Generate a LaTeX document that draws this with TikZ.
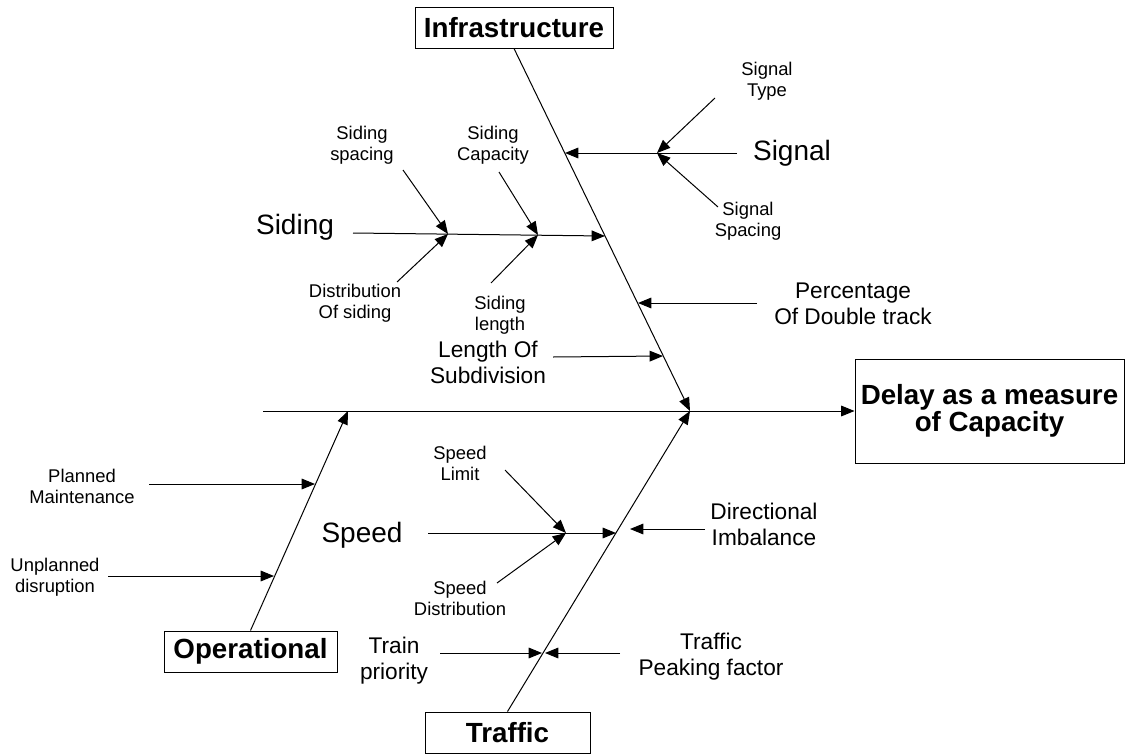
\documentclass[tikz,border=0pt]{standalone}
\usepackage{fontspec}
\setmainfont{Liberation Sans}
\usepackage{tikz}
\usetikzlibrary{arrows.meta}

\begin{document}
\begin{tikzpicture}[x=0.75pt,y=0.75pt,yscale=-1,
  small/.style={inner sep=0pt,align=center,font=\fontsize{13.8}{15.8}\selectfont},
  medium/.style={inner sep=0pt,align=center,font=\fontsize{17}{19.5}\selectfont},
  large/.style={inner sep=0pt,align=center,font=\fontsize{21}{24}\selectfont},
  catbox/.style={draw,line width=0.75pt,inner sep=0pt,align=center,minimum height=30.75pt,font=\bfseries\fontsize{20.8}{18}\selectfont},
  bone/.style={line width=0.75pt},
  arr/.style={line width=0.75pt,-{Triangle[length=10pt,width=8pt]}}]
\useasboundingbox (0,0) rectangle (1127,753);

% Text Node
\node [catbox,minimum width=148.5pt] (infra) at (514,27.5) {Infrastructure};
% Text Node
\node [catbox,minimum width=129.75pt] (oper) at (250.5,651.5) {Operational};
% Text Node
\node [catbox,minimum width=123.75pt] (traffic) at (507.5,732.5) {Traffic};
% Text Node
\node [catbox,minimum width=201.75pt,minimum height=78pt] (delay) at (989.5,411) {Delay as a measure\\of Capacity};

% Text Node
\node [large] (signal) at (792,153) {Signal};
% Text Node
\node [small] (sigtype) at (767,81) {Signal\\Type};
% Text Node
\node [small] (sigspace) at (748,221) {Signal\\Spacing};
% Text Node
\node [large] (siding) at (295,227) {Siding};
% Text Node
\node [small] (sidspace) at (362,145) {Siding\\spacing};
% Text Node
\node [small] (sidcap) at (493,145) {Siding\\Capacity};
% Text Node
\node [small] (siddist) at (355,303) {Distribution\\Of siding};
% Text Node
\node [small] (sidlen) at (500,315) {Siding\\length};
% Text Node
\node [medium] (lensub) at (488,362) {Length Of\\Subdivision};
% Text Node
\node [medium] (pctdbl) at (853,304) {Percentage\\Of Double track};
% Text Node
\node [small] (planned) at (82,486) {Planned\\Maintenance};
% Text Node
\node [small] (unplanned) at (55,577) {Unplanned\\disruption};
% Text Node
\node [large] (speed) at (362,535) {Speed};
% Text Node
\node [small] (spdlim) at (460,463) {Speed\\Limit};
% Text Node
\node [small] (spddist) at (460,598) {Speed\\Distribution};
% Text Node
\node [medium] (dirimb) at (764,524) {Directional\\Imbalance};
% Text Node
\node [medium] (trainpri) at (394,661) {Train\\priority};
% Text Node
\node [medium] (peak) at (711,657) {Traffic\\Peaking factor};

% Points on the bones
\coordinate (head) at (690,411);
\coordinate (tail) at (263,411);
\coordinate (opHead) at (348,411);
\coordinate (jSig) at (565,153);
\coordinate (jSigIn) at (657,153);
\coordinate (jSid) at (605,236);
\coordinate (jSidA) at (448,234);
\coordinate (jSidB) at (538,235);
\coordinate (jPct) at (638,303);
\coordinate (jLen) at (663,356);
\coordinate (jPlan) at (315,484);
\coordinate (jUnpl) at (274,576);
\coordinate (jSpd) at (616,533);
\coordinate (jSpdIn) at (566,533);
\coordinate (jDir) at (630,529);
\coordinate (jTrainL) at (542,653);
\coordinate (jTrainR) at (545,653);
% Free ends
\coordinate (sigFrom) at (737,153);
\coordinate (sigtypeFrom) at (715,98);
\coordinate (sigspaceFrom) at (718,207);
\coordinate (sidFrom) at (353,233);
\coordinate (sidspaceFrom) at (403,170);
\coordinate (siddistFrom) at (397,282);
\coordinate (sidcapFrom) at (499,172);
\coordinate (sidlenFrom) at (491,283);
\coordinate (lenFrom) at (553,357);
\coordinate (pctFrom) at (757,303);
\coordinate (planFrom) at (149,484);
\coordinate (unplFrom) at (108,576);
\coordinate (spdFrom) at (428,533);
\coordinate (spdlimFrom) at (505,470);
\coordinate (spddistFrom) at (497,583);
\coordinate (dirFrom) at (705,529);
\coordinate (trainFrom) at (440,653);
\coordinate (peakFrom) at (620,653);

% Connection
\draw [arr] (tail) -- (delay.west);
% Connection
\draw [arr] (infra.south) -- (head);
% Connection
\draw [arr] (traffic.north) -- (head);
% Connection
\draw [arr] (oper.north) -- (opHead);

% Connection
\draw [arr] (sigFrom) -- (jSig);
% Connection
\draw [arr] (sigtypeFrom) -- (jSigIn);
% Connection
\draw [arr] (sigspaceFrom) -- (jSigIn);
% Connection
\draw [arr] (sidFrom) -- (jSid);
% Connection
\draw [arr] (sidspaceFrom) -- (jSidA);
% Connection
\draw [arr] (siddistFrom) -- (jSidA);
% Connection
\draw [arr] (sidcapFrom) -- (jSidB);
% Connection
\draw [arr] (sidlenFrom) -- (jSidB);
% Connection
\draw [arr] (pctFrom) -- (jPct);
% Connection
\draw [arr] (lenFrom) -- (jLen);

% Connection
\draw [arr] (planFrom) -- (jPlan);
% Connection
\draw [arr] (unplFrom) -- (jUnpl);

% Connection
\draw [arr] (spdFrom) -- (jSpd);
% Connection
\draw [arr] (spdlimFrom) -- (jSpdIn);
% Connection
\draw [arr] (spddistFrom) -- (jSpdIn);
% Connection
\draw [arr] (dirFrom) -- (jDir);
% Connection
\draw [arr] (trainFrom) -- (jTrainL);
% Connection
\draw [arr] (peakFrom) -- (jTrainR);

\end{tikzpicture}
\end{document}
